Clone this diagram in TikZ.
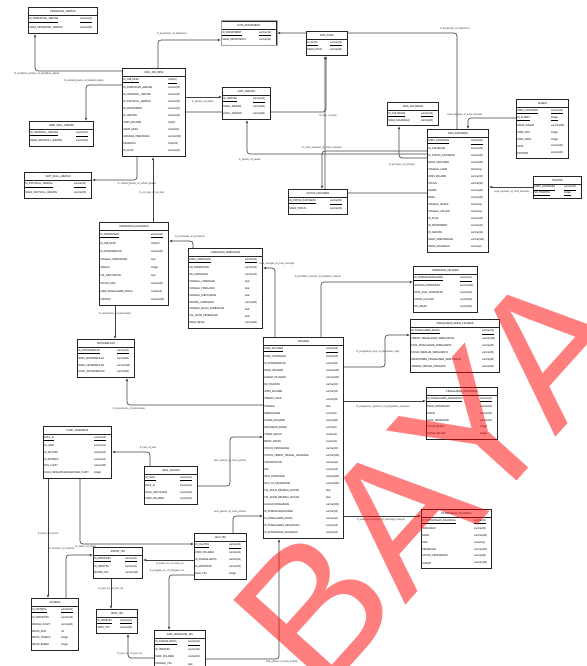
\documentclass[tikz,border=0pt]{standalone}
\usepackage{fontspec}
\setmainfont[FakeStretch=0.82]{Liberation Sans}
\newfontfamily\wmfont{Liberation Sans}
\usetikzlibrary{arrows.meta,calc}
\pgfdeclarelayer{bg}
\pgfsetlayers{bg,main}
\tikzset{
  tbl/.style={draw=black!85, line width=1pt, fill=white, inner sep=0pt},
  sepline/.style={draw=black!85, line width=0.6pt},
  ttl/.style={font=\fontsize{2.8}{3}\selectfont, inner sep=0pt},
  fld/.style={font=\fontsize{2.8}{3}\selectfont, inner sep=0pt, anchor=west},
  fk/.style={draw=black!75, line width=0.65pt, rounded corners=3pt, -{Latex[length=3.2pt,width=2.6pt]}},
  lbl/.style={font=\fontsize{2.6}{3}\selectfont, text=black!80, inner sep=0.3pt}
}
% name, x, y, w, h, nrows, npk, title, rows
\newcommand\erT[9]{%
  \pgfmathsetmacro\erP{(#5-11)/#6}%
  \node[tbl, minimum width=#4, minimum height=#5, anchor=north west] (#1) at (#2,#3) {};
  \draw[sepline] ($(#1.north west)+(0,8.5)$) -- ($(#1.north east)+(0,8.5)$);
  \node[ttl] (#1-t) at ($(#1.north)+(0,4.5)$) {\detokenize{#8}};
  \foreach \fa/\ty [count=\ri] in {#9} {
    \ifnum\ri>#7\relax
      \node[fld] at ($(#1.north west)+(1.2,{9.5+\erP*(\ri-0.5)})$) {\expandafter\detokenize\expandafter{\fa}};
      \node[fld] at ($(#1.north east)+(-18,{9.5+\erP*(\ri-0.5)})$) {\ty};
    \else
      \node[fld] at ($(#1.north west)+(1.2,{9.5+\erP*(\ri-0.5)})$) {\underline{\expandafter\detokenize\expandafter{\fa}}};
      \node[fld] at ($(#1.north east)+(-18,{9.5+\erP*(\ri-0.5)})$) {\underline{\ty}};
    \fi
  }%
}
\begin{document}
\begin{tikzpicture}[x=1pt,y=-1pt]
\useasboundingbox (0,0) rectangle (586,666);
\begin{pgfonlayer}{bg}
\fill[white] (0,0) rectangle (586,666);
\end{pgfonlayer}

\erT{pj}{28}{7}{69}{26}{2}{1}{PENDIDIKAN_JABATAN}{ID_PENDIDIKAN_JABATAN/varchar(10),NAMA_PENDIDIKAN_JABATAN/varchar(30)}
\erT{dep}{221}{21}{55}{24}{2}{1}{DATA_DEPARTMENT}{ID_DEPARTMENT/varchar(10),NAMA_DEPARTMENT/varchar(30)}
\draw[draw=black!35, line width=1pt] (dep.north west) rectangle (dep.south east);
\erT{div}{306}{31}{41}{24}{2}{1}{DATA_DIVISI}{ID_DIVISI/varchar(10),NAMA_DIVISI/varchar(30)}
\erT{jd}{122}{68}{63}{88}{11}{1}{DATA_JOB_DESK}{ID_JOB_DESK/char(10),ID_PENDIDIKAN_JABATAN/varchar(10),ID_HARDSKILL_JABATAN/varchar(10),ID_SOFTSKILL_JABATAN/varchar(10),ID_DEPARTMENT/varchar(10),ID_JABATAN/varchar(10),JENIS_KELAMIN/char(2),UMUR_MAKS/numeric(2),JURUSAN_PENDIDIKAN/varchar(100),DESKRIPSI/char(100),ID_DIVISI/varchar(10)}
\erT{hs}{29}{121}{64}{25}{2}{1}{HARD_SKILL_JABATAN}{ID_HARDSKILL_JABATAN/varchar(10),NAMA_HARDSKILL_JABATAN/varchar(30)}
\erT{jab}{222}{87}{48}{32}{3}{1}{DATA_JABATAN}{ID_JABATAN/varchar(10),NAMA_JABATAN/varchar(30),LEVEL_JABATAN/varchar(30)}
\erT{gol}{387}{102}{51}{23}{2}{1}{DATA_GOLONGAN}{ID_GOLONGAN/varchar(10),NAMA_GOLONGAN/varchar(30)}
\erT{alm}{516}{99}{52}{59}{7}{2}{ALAMAT}{KODE_KARYAWAN/varchar(10),ID_ALAMAT/integer,NAMA_ALAMAT/varchar(100),KODE_POS/integer,KODE_AREA/integer,KOTA/varchar(30),PROPINSI/varchar(30)}
\erT{kar}{427}{129}{61}{123}{16}{1}{DATA_KARYAWAN}{KODE_KARYAWAN/varchar(10),ID_GOLONGAN/varchar(10),ID_STATUS_KARYAWAN/varchar(10),NAMA_KARYAWAN/varchar(30),TANGGAL_LAHIR/timestamp,JENIS_KELAMIN/varchar(10),STATUS/varchar(30),AGAMA/varchar(30),EMAIL/varchar(30),TANGGAL_MASUK/timestamp,TANGGAL_KELUAR/timestamp,ID_DIVISI/varchar(10),ID_DEPARTMENT/varchar(10),ID_JABATAN/varchar(10),NAMA_TANDATANGAN/varchar(100),NAMA_GOLONGAN/varchar(2)}
\erT{tel}{533}{176}{48}{22}{2}{2}{TELEPON}{KODE_KARYAWAN/varchar(10),NO_TELEPON/integer}
\erT{ss}{24}{172}{67}{26}{2}{1}{SOFT_SKILL_JABATAN}{ID_SOFTSKILL_JABATAN/varchar(10),NAMA_SOFTSKILL_JABATAN/varchar(30)}
\erT{stk}{288}{189}{59}{25}{2}{1}{STATUS_KARYAWAN}{ID_STATUS_KARYAWAN/varchar(10),NAMA_STATUS/varchar(30)}
\erT{per}{99}{222}{69}{83}{9}{1}{PERMINTAAN_KARYAWAN}{ID_PERMINTAAN/varchar(10),ID_JOB_DESK/char(10),ID_KETERAMPILAN/varchar(10),TANGGAL_PERMINTAAN/date,JUMLAH/integer,TGL_DIBUTUHKAN/date,STATUS_SDM/varchar(10),LAMA_PENGALAMAN_KERJA/numeric(4),CATATAN/varchar(100)}
\erT{low}{188}{248}{74}{80}{10}{1}{LOWONGAN_PEMBUKAAN}{KODE_LOWONGAN/varchar(10),NO_PERMINTAAN/varchar(10),NO_LOWONGAN/varchar(10),TANGGAL_LOWONGAN/date,TANGGAL_PENGUJIAN/date,TANGGAL_DIBUTUHKAN/date,PROSES_LOWONGAN/varchar(30),TANGGAL_MULAI_PEMBUKAAN/date,TGL_AKHIR_PEMBUKAAN/date,NAMA_MEDIA/varchar(30)}
\erT{pp}{413}{266}{64}{46}{5}{1}{PENDIDIKAN_PELAMAR}{ID_PENDIDIKANPELAMAR/varchar(10),JENJANG_PENDIDIKAN/varchar(100),KOTA_ASAL_PENDIDIKAN/varchar(30),TAHUN_LULUSAN/varchar(30),NO_IJASAH/varchar(30)}
\erT{pk}{410}{319}{89}{53}{6}{1}{PENGALAMAN_KERJA_PELAMAR}{ID_PENGALAMAN_KERJA/varchar(10),TEMPAT_PENGALAMAN_SEBELUMNYA/varchar(100),KOTA_PENGALAMAN_SEBELUMNYA/varchar(30),TAHUN_SEBELUM_SEBELUMNYA/varchar(30),DEPARTEMEN_PENGALAMAN_SEBELUMNYA/varchar(30),JABATAN_PERNAH_DIPEGANG/varchar(30)}
\erT{ket}{77}{339}{57}{38}{4}{1}{KETERAMPILAN}{ID_KETERAMPILAN/varchar(10),JENIS_KETERAMPILAN/varchar(30),NAMA_KETERAMPILAN/varchar(100),LEVEL_KETERAMPILAN/varchar(30)}
\erT{pel}{263}{337}{80}{201}{27}{1}{PELAMAR}{KODE_PELAMAR/varchar(10),KODE_LOWONGAN/varchar(10),ID_KETERAMPILAN/varchar(20),NAMA_PELAMAR/varchar(100),ALAMAT_PELAMAR/varchar(100),NO_TELEPON/varchar(20),JENIS_KELAMIN/varchar(10),TEMPAT_LAHIR/varchar(50),TANGGAL/date,KEBANGSAAN/varchar(2),AGAMA_PELAMAR/varchar(30),GOLONGAN_DARAH/varchar(2),TINGGI_BADAN/numeric(3),BERAT_BADAN/numeric(3),STATUS_PERNIKAHAN/varchar(20),STATUS_TEMPAT_TINGGAL_SEKARANG/varchar(100),TRANSPORTASI/varchar(10),SIM/varchar(10),INFO_LOWONGAN/varchar(200),GAJI_YG_DIHARAPKAN/varchar(200),TGL_MULAI_BEKERJA_AKTARA/date,TGL_AKHIR_BEKERJA_AKTARA/date,ALASAN_BERGABUNG/varchar(200),ID_PENDIDIKANPELAMAR/varchar(10),ID_PENGALAMAN_KERJA/varchar(10),ID_PENGALAMAN_ORGANISASI/varchar(10),ID_KETERANGAN_KELUARGA/varchar(10)}
\erT{po}{426}{387}{71}{52}{6}{1}{PENGALAMAN_ORGANISASI}{ID_PENGALAMAN_ORGANISASI/varchar(10),NAMA_ORGANISASI/varchar(30),POSISI/varchar(30),KOTA_ORGANISASI/varchar(30),TAHUN_MASUK/integer,TAHUN_KELUAR/integer}
\erT{fz}{43}{426}{68}{52}{6}{1}{FUZZY_INFERENCE}{RULE_ID/varchar(10),ID_HASIL/varchar(10),ID_NILAITES/varchar(10),ID_KRITERIA/varchar(10),BHS_FUZZY/varchar(30),HASIL_DERAJATKEANGGOTAAN_FUZZY/integer}
\erT{hsl}{144}{466}{53}{38}{4}{1}{HASIL_SELEKSI}{ID_HASIL/varchar(10),RULE_ID/varchar(10),HASIL_KEPUTUSAN/varchar(30),KODE_PELAMAR/varchar(10)}
\erT{kk}{421}{509}{70}{59}{7}{1}{KETERANGAN_KELUARGA}{ID_KETERANGAN_KELUARGA/varchar(10),HUBUNGAN/varchar(30),NAMA/varchar(100),USIA/numeric(4),PEKERJAAN/varchar(100),STATUS_PERKAWINAN/varchar(30),ALAMAT/varchar(100)}
\erT{nt}{194}{533}{52}{46}{5}{1}{NILAI_TES}{ID_NILAITES/varchar(10),KODE_PELAMAR/varchar(10),ID_PANGGILANTES/varchar(10),ID_MATERITES/varchar(10),NILAI_TES/integer}
\erT{mt}{93}{547}{49}{31}{3}{1}{MATERI_TES}{ID_MATERITES/varchar(10),ID_JENISTES/varchar(10),MATERI_TES/varchar(100)}
\erT{kr}{31}{598}{47}{52}{6}{1}{KRITERIA}{ID_KRITERIA/varchar(10),ID_MATERITES/varchar(10),BAHASA_FUZZY/varchar(30),BATAS_ATAS/VA,BATAS_TENGAH/integer,BATAS_BAWAH/integer}
\erT{jt}{96}{609}{41}{24}{2}{1}{JENIS_TES}{ID_JENISTES/varchar(10),JENIS_TES/varchar(30)}
\erT{dpt}{154}{630}{51}{39}{4}{1}{DATA_PANGGILAN_TES}{ID_PANGGILANTES/varchar(10),ID_JENISTES/varchar(10),KODE_PELAMAR/varchar(10),TANGGAL_TES/date}

\begin{pgfonlayer}{bg}
\draw[fk] (jd.west |- 0,71) -| (pj.south -| 35,0);
\draw[fk] (jd.west |- 0,85) -| (hs.north -| 86,0);
\draw[fk] (jd.north -| 158,0) |- (dep.west |- 0,40);
\draw[fk] (jd.east |- 0,97) -- (jab.west |- 0,97);
\draw[fk] (jd.east |- 0,112) -| (div.south -| 326,0);
\draw[fk] (kar.north -| 457,0) |- (dep.east |- 0,33);
\draw[fk] (kar.west |- 0,154) -| (jab.south -| 247,0);
\draw[fk] (kar.west |- 0,158) -| (gol.south -| 399,0);
\draw[fk] (kar.west |- 0,151) -| (stk.north -| 322,0);
\draw[fk] (kar.west |- 0,193) -| (div.south -| 325,0);
\draw[fk] (alm.west |- 0,118) -| (kar.north -| 468,0);
\draw[fk] (tel.west |- 0,187) -- (kar.east |- 0,187);
\draw[fk] (jd.south -| 137,0) |- (ss.east |- 0,180);
\draw[fk] (per.north -| 153,0) -- (jd.south -| 153,0);
\draw[fk] (low.north -| 193,0) |- (per.east |- 0,241);
\draw[fk] (pel.north -| 275,0) |- (low.east |- 0,268);
\draw[fk] (pel.north -| 321,0) |- (pp.west |- 0,282);
\draw[fk] (pel.east |- 0,367) -| (385,335) -- (pk.west |- 0,335);
\draw[fk] (pel.east |- 0,401) -- (po.west |- 0,401);
\draw[fk] (pel.east |- 0,516) -- (kk.west |- 0,516);
\draw[fk] (pel.west |- 0,405) -| (ket.south -| 127,0);
\draw[fk] (per.south -| 115,0) -- (ket.north -| 115,0);
\draw[fk] (hsl.north -| 150,0) |- (fz.east |- 0,452);
\draw[fk] (hsl.east |- 0,486) -| (230,437) -- (pel.west |- 0,437);
\draw[fk] (nt.north -| 233,0) |- (pel.west |- 0,516);
\draw[fk] (nt.west |- 0,560) -- (mt.east |- 0,560);
\draw[fk] (fz.south -| 48,0) -- (kr.north -| 48,0);
\draw[fk] (fz.south -| 80,0) |- (nt.west |- 0,544);
\draw[fk] (kr.north -| 66,0) |- (mt.west |- 0,555);
\draw[fk] (mt.south -| 111,0) -- (jt.north -| 111,0);
\draw[fk] (dpt.west |- 0,658) -| (jt.south -| 128,0);
\draw[fk] (nt.west |- 0,575) -| (dpt.north -| 169,0);
\draw[fk] (dpt.east |- 0,659) -| (pel.south -| 279,0);
\end{pgfonlayer}

\node[lbl] (l1) at (37,74) {fk\_pendidikan\_jabatan\_ref\_pendidikan\_jabatan};
\node[lbl] (l2) at (84,81) {fk\_hardskill\_jabatan\_ref\_hardskill\_jabatan};
\node[lbl] (l3) at (172,34) {fk\_department\_ref\_department};
\node[lbl] (l4) at (203,102) {fk\_jabatan\_ref\_jabatan};
\node[lbl] (l5) at (328,116) {fk\_divisi\_ref\_divisi};
\node[lbl] (l6) at (455,29) {fk\_department\_ref\_department};
\node[lbl] (l7) at (250,160) {fk\_jabatan\_ref\_jabatan};
\node[lbl] (l8) at (402,165) {fk\_golongan\_ref\_golongan};
\node[lbl] (l9) at (322,148) {fk\_status\_karyawan\_ref\_status\_karyawan};
\node[lbl] (l11) at (465,115) {kode\_karyawan\_ref\_kode\_karyawan};
\node[lbl] (l12) at (512,192) {kode\_karyawan\_ref\_kode\_karyawan};
\node[lbl] (l13) at (137,184) {fk\_softskill\_jabatan\_ref\_softskill\_jabatan};
\node[lbl] (l14) at (152,193) {fk\_job\_desk\_ref\_job\_desk};
\node[lbl] (l15) at (190,237) {no\_permintaan\_ref\_permintaan};
\node[lbl] (l16) at (277,264) {kode\_lowongan\_ref\_kode\_lowongan};
\node[lbl] (l17) at (318,277) {fk\_pendidikan\_pelamar\_ref\_pendidikan\_pelamar};
\node[lbl] (l18) at (378,352) {fk\_pengalaman\_kerja\_ref\_pengalaman\_kerja};
\node[lbl] (l19) at (383,407) {fk\_pengalaman\_organisasi\_ref\_pengalaman\_organisasi};
\node[lbl] (l20) at (381,520) {fk\_keterangan\_keluarga\_ref\_keterangan\_keluarga};
\node[lbl] (l21) at (129,409) {fk\_keterampilan\_ref\_keterampilan};
\node[lbl] (l22) at (115,314) {fk\_keterampilan\_ref\_keterampilan};
\node[lbl] (l23) at (148,448) {fk\_hasil\_ref\_hasil};
\node[lbl] (l24) at (230,461) {kode\_pelamar\_ref\_kode\_pelamar};
\node[lbl] (l25) at (230,512) {kode\_pelamar\_ref\_kode\_pelamar};
\node[lbl] (l26) at (170,564) {fk\_materi\_tes\_ref\_materi\_tes};
\node[lbl] (l27) at (48,534) {fk\_kriteria\_ref\_kriteria};
\node[lbl] (l28) at (86,547) {fk\_nilaites\_ref\_nilaites};
\node[lbl] (l29) at (62,549) {fk\_materites\_ref\_materites};
\node[lbl] (l30) at (111,589) {fk\_jenis\_tes\_ref\_jenis\_tes};
\node[lbl] (l31) at (130,654) {fk\_jenis\_tes\_ref\_jenis\_tes};
\node[lbl] (l32) at (167,571) {fk\_panggilan\_tes\_ref\_panggilan\_tes};
\node[lbl] (l33) at (282,662) {kode\_pelamar\_ref\_kode\_pelamar};

\node[rotate=48, text=red, opacity=0.5, inner sep=0pt, font=\wmfont\fontsize{190}{190}\selectfont] (wm) at (432,478) {BAYA};
\end{tikzpicture}
\end{document}
